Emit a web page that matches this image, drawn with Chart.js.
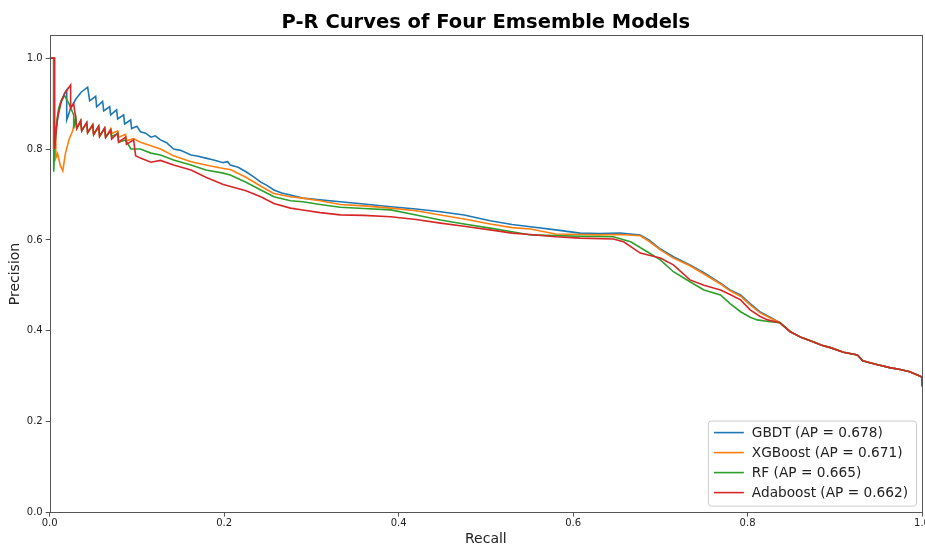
<!DOCTYPE html>
<html>
<head>
    <title>P-R Curves of Four Emsemble Models</title>
    <script src="https://cdn.jsdelivr.net/npm/chart.js"></script>
    <style>
        html, body {
            margin: 0;
            padding: 0;
            background: #ffffff;
        }

        #chartBox {
            width: 925px;
            height: 547px;
        }
    </style>
</head>
<body>
    <div id="chartBox">
        <canvas id="prChart" width="925" height="547"></canvas>
    </div>
    <script>
        // tick positions on both axes
        const recallTicks = [0, 0.2, 0.4, 0.6, 0.8, 1.0];
        const precisionTicks = [0, 0.2, 0.4, 0.6, 0.8, 1.0];

        const modelNames = ['GBDT (AP = 0.678)', 'XGBoost (AP = 0.671)', 'RF (AP = 0.665)', 'Adaboost (AP = 0.662)'];
        const modelColors = ['#1f77b4', '#ff7f0e', '#2ca02c', '#d62728'];

        // values
        const gbdtRecall = [
            0, 0.0046, 0.0046, 0.007, 0.010, 0.013, 0.017, 0.0195, 0.0195, 0.021,
            0.024, 0.030, 0.036, 0.0435, 0.0458, 0.0527, 0.0538, 0.0607, 0.0619, 0.0687,
            0.0699, 0.0767, 0.0779, 0.0848, 0.0859, 0.0928, 0.0939, 0.100, 0.104, 0.110,
            0.116, 0.121, 0.127, 0.134, 0.142, 0.150, 0.162, 0.170, 0.179, 0.188,
            0.199, 0.204, 0.207, 0.216, 0.225, 0.233, 0.242, 0.249, 0.257, 0.266,
            0.276, 0.290, 0.310, 0.333, 0.360, 0.391, 0.420, 0.448, 0.475, 0.505,
            0.530, 0.551, 0.580, 0.608, 0.630, 0.654, 0.677, 0.687, 0.700, 0.715,
            0.734, 0.750, 0.769, 0.780, 0.792, 0.803, 0.814, 0.826, 0.837, 0.849,
            0.862, 0.875, 0.885, 0.895, 0.910, 0.926, 0.932, 0.948, 0.963, 0.975,
            0.986, 0.998, 1.0, 1.0
        ];
        const gbdtPrecision = [
            1.0, 1.0, 0.80, 0.84, 0.88, 0.905, 0.922, 0.93, 0.864, 0.872,
            0.89, 0.91, 0.925, 0.936, 0.906, 0.916, 0.893, 0.905, 0.884, 0.893,
            0.875, 0.886, 0.866, 0.875, 0.855, 0.864, 0.845, 0.85, 0.838, 0.835,
            0.826, 0.829, 0.82, 0.814, 0.80, 0.797, 0.787, 0.784, 0.78, 0.776,
            0.77, 0.772, 0.765, 0.76, 0.75, 0.74, 0.727, 0.72, 0.71, 0.703,
            0.699, 0.692, 0.688, 0.684, 0.679, 0.673, 0.668, 0.662, 0.655, 0.642,
            0.634, 0.629, 0.622, 0.615, 0.614, 0.615, 0.611, 0.60, 0.58, 0.563,
            0.545, 0.528, 0.505, 0.49, 0.479, 0.46, 0.442, 0.43, 0.418, 0.398,
            0.385, 0.376, 0.368, 0.363, 0.353, 0.347, 0.334, 0.326, 0.319, 0.315,
            0.310, 0.300, 0.298, 0.278
        ];

        const xgbRecall = [
            0, 0.0046, 0.0046, 0.007, 0.007, 0.009, 0.012, 0.015, 0.018, 0.022,
            0.0263, 0.0298, 0.0310, 0.0355, 0.0367, 0.0424, 0.0435, 0.0493, 0.0504, 0.0561,
            0.0572, 0.0630, 0.0641, 0.070, 0.071, 0.078, 0.079, 0.087, 0.088, 0.096,
            0.104, 0.116, 0.127, 0.142, 0.162, 0.179, 0.199, 0.207, 0.225, 0.242,
            0.257, 0.276, 0.290, 0.310, 0.333, 0.360, 0.391, 0.420, 0.448, 0.475,
            0.505, 0.530, 0.551, 0.580, 0.608, 0.630, 0.654, 0.677, 0.687, 0.700,
            0.715, 0.734, 0.750, 0.769, 0.780, 0.792, 0.803, 0.814, 0.826, 0.837,
            0.849, 0.862, 0.875, 0.885, 0.895, 0.910, 0.926, 0.932, 0.948, 0.963,
            0.975, 0.986, 0.998, 1.0, 1.0
        ];
        const xgbPrecision = [
            1.0, 1.0, 0.80, 0.835, 0.78, 0.79, 0.765, 0.752, 0.79, 0.82,
            0.84, 0.868, 0.845, 0.862, 0.84, 0.858, 0.836, 0.853, 0.832, 0.85,
            0.828, 0.846, 0.826, 0.845, 0.834, 0.84, 0.826, 0.832, 0.818, 0.823,
            0.815, 0.807, 0.80, 0.785, 0.772, 0.765, 0.757, 0.755, 0.738, 0.718,
            0.702, 0.695, 0.692, 0.686, 0.678, 0.675, 0.670, 0.664, 0.655, 0.646,
            0.635, 0.627, 0.624, 0.613, 0.612, 0.611, 0.612, 0.609, 0.597, 0.578,
            0.56, 0.543, 0.525, 0.503, 0.488, 0.476, 0.457, 0.44, 0.428, 0.418,
            0.398, 0.385, 0.376, 0.368, 0.363, 0.353, 0.347, 0.334, 0.326, 0.319,
            0.315, 0.310, 0.300, 0.298, 0.278
        ];

        const rfRecall = [
            0, 0.0046, 0.0046, 0.0057, 0.008, 0.0103, 0.013, 0.017, 0.022, 0.0275,
            0.0275, 0.0298, 0.0310, 0.0355, 0.0367, 0.0424, 0.0435, 0.0493, 0.0504, 0.0561,
            0.0572, 0.0630, 0.0641, 0.070, 0.071, 0.078, 0.079, 0.087, 0.093, 0.104,
            0.116, 0.127, 0.142, 0.162, 0.179, 0.199, 0.207, 0.225, 0.242, 0.257,
            0.276, 0.290, 0.310, 0.333, 0.360, 0.391, 0.420, 0.448, 0.475, 0.505,
            0.530, 0.551, 0.570, 0.608, 0.646, 0.666, 0.685, 0.700, 0.715, 0.734,
            0.750, 0.769, 0.780, 0.792, 0.803, 0.811, 0.826, 0.837, 0.849, 0.862,
            0.875, 0.885, 0.895, 0.910, 0.926, 0.932, 0.948, 0.963, 0.975, 0.986,
            0.998, 1.0, 1.0
        ];
        const rfPrecision = [
            1.0, 1.0, 0.75, 0.80, 0.86, 0.89, 0.905, 0.918, 0.90, 0.875,
            0.845, 0.868, 0.845, 0.862, 0.84, 0.858, 0.836, 0.853, 0.832, 0.85,
            0.828, 0.846, 0.826, 0.840, 0.828, 0.834, 0.815, 0.82, 0.80, 0.80,
            0.791, 0.787, 0.776, 0.765, 0.754, 0.747, 0.743, 0.727, 0.71, 0.695,
            0.686, 0.684, 0.678, 0.672, 0.669, 0.666, 0.655, 0.644, 0.635, 0.626,
            0.618, 0.611, 0.610, 0.608, 0.607, 0.596, 0.574, 0.556, 0.53, 0.508,
            0.49, 0.479, 0.46, 0.442, 0.43, 0.424, 0.42, 0.418, 0.398, 0.385,
            0.376, 0.368, 0.363, 0.353, 0.347, 0.334, 0.326, 0.319, 0.315, 0.310,
            0.300, 0.298, 0.278
        ];

        const adaRecall = [
            0, 0.0057, 0.0057, 0.0069, 0.0092, 0.0126, 0.017, 0.024, 0.024, 0.0275,
            0.0298, 0.0310, 0.0355, 0.0367, 0.0424, 0.0435, 0.0493, 0.0504, 0.0561, 0.0572,
            0.0630, 0.0641, 0.070, 0.071, 0.078, 0.079, 0.087, 0.088, 0.0962, 0.0985,
            0.104, 0.116, 0.127, 0.142, 0.162, 0.179, 0.199, 0.225, 0.242, 0.257,
            0.276, 0.290, 0.310, 0.333, 0.360, 0.391, 0.420, 0.448, 0.475, 0.505,
            0.530, 0.551, 0.580, 0.608, 0.646, 0.658, 0.677, 0.700, 0.715, 0.734,
            0.750, 0.769, 0.780, 0.792, 0.803, 0.814, 0.823, 0.837, 0.849, 0.862,
            0.875, 0.885, 0.895, 0.910, 0.926, 0.932, 0.948, 0.963, 0.975, 0.986,
            0.998, 1.0, 1.0
        ];
        const adaPrecision = [
            1.0, 1.0, 0.80, 0.83, 0.87, 0.90, 0.922, 0.941, 0.89, 0.90,
            0.868, 0.845, 0.862, 0.84, 0.858, 0.836, 0.853, 0.832, 0.85, 0.828,
            0.846, 0.826, 0.842, 0.822, 0.835, 0.815, 0.826, 0.81, 0.82, 0.785,
            0.78, 0.771, 0.775, 0.765, 0.754, 0.738, 0.722, 0.708, 0.695, 0.68,
            0.67, 0.666, 0.66, 0.655, 0.654, 0.651, 0.645, 0.637, 0.63, 0.622,
            0.615, 0.612, 0.607, 0.604, 0.602, 0.596, 0.571, 0.56, 0.545, 0.512,
            0.50, 0.49, 0.48, 0.468, 0.446, 0.432, 0.424, 0.418, 0.398, 0.385,
            0.376, 0.368, 0.363, 0.353, 0.347, 0.334, 0.326, 0.319, 0.315, 0.310,
            0.300, 0.298, 0.278
        ];

        const allRecall = [gbdtRecall, xgbRecall, rfRecall, adaRecall];
        const allPrecision = [gbdtPrecision, xgbPrecision, rfPrecision, adaPrecision];

        Chart.defaults.font.family = "'DejaVu Sans', sans-serif";
        Chart.defaults.color = '#222';

        // frame around the plot, like matplotlib spines
        const framePlugin = {
            id: 'frame',
            afterDatasetsDraw(chart) {
                const { ctx, chartArea } = chart;
                ctx.save();
                ctx.strokeStyle = '#555';
                ctx.lineWidth = 1;
                ctx.strokeRect(Math.round(chartArea.left) + 0.5, Math.round(chartArea.top) + 0.5,
                    Math.round(chartArea.right - chartArea.left), Math.round(chartArea.bottom - chartArea.top));
                ctx.restore();
            }
        };

        // legend in the lower right corner of the plot
        const legendPlugin = {
            id: 'insideLegend',
            afterDraw(chart) {
                const { ctx, chartArea } = chart;
                const datasets = chart.data.datasets;
                ctx.save();
                ctx.font = "13.7px 'DejaVu Sans', sans-serif";
                let textWidth = 0;
                for (const ds of datasets) {
                    textWidth = Math.max(textWidth, ctx.measureText(ds.label).width);
                }
                const rowHeight = 20;
                const boxW = 44 + textWidth + 8;
                const boxH = rowHeight * datasets.length + 5;
                const boxX = chartArea.right - 6 - boxW;
                const boxY = chartArea.bottom - 7 - boxH;

                ctx.beginPath();
                ctx.roundRect(boxX + 0.5, boxY + 0.5, boxW, boxH, 3);
                ctx.fillStyle = 'rgba(255, 255, 255, 0.8)';
                ctx.fill();
                ctx.strokeStyle = '#cccccc';
                ctx.lineWidth = 1;
                ctx.stroke();

                ctx.textBaseline = 'middle';
                datasets.forEach((ds, i) => {
                    const y = boxY + 12 + i * rowHeight;
                    ctx.beginPath();
                    ctx.moveTo(boxX + 6, y);
                    ctx.lineTo(boxX + 36, y);
                    ctx.strokeStyle = ds.borderColor;
                    ctx.lineWidth = 1.6;
                    ctx.stroke();
                    ctx.fillStyle = '#222';
                    ctx.fillText(ds.label, boxX + 44, y + 1);
                });
                ctx.restore();
            }
        };

        const datasets = modelNames.map((name, i) => ({
            label: name,
            data: allRecall[i].map((r, j) => ({ x: r, y: allPrecision[i][j] })),
            borderColor: modelColors[i],
            backgroundColor: modelColors[i],
            borderWidth: 1.6,
            pointRadius: 0,
            tension: 0,
            fill: false,
            order: modelNames.length - i // Adaboost drawn last, on top
        }));

        const ctx = document.getElementById('prChart').getContext('2d');
        const chart = new Chart(ctx, {
            type: 'line',
            data: { datasets: datasets },
            options: {
                responsive: false,
                devicePixelRatio: 1,
                animation: false,
                layout: {
                    padding: { top: 0, left: 7, right: 3, bottom: 0 }
                },
                plugins: {
                    legend: { display: false },
                    tooltip: { enabled: false },
                    title: {
                        display: true,
                        text: 'P-R Curves of Four Emsemble Models',
                        fullSize: false,
                        color: '#000',
                        font: { size: 19.5, weight: 'bold' },
                        padding: { top: 11, bottom: 1 }
                    }
                },
                scales: {
                    x: {
                        type: 'linear',
                        min: 0,
                        max: 1,
                        afterBuildTicks: (scale) => {
                            scale.ticks = recallTicks.map(v => ({ value: v }));
                        },
                        afterFit: (scale) => {
                            scale.paddingRight = 0;
                        },
                        ticks: {
                            callback: (v) => Number(v).toFixed(1),
                            font: { size: 10 },
                            color: '#222',
                            padding: 1,
                            maxRotation: 0,
                            autoSkip: false
                        },
                        grid: { drawOnChartArea: false, tickLength: 4, color: '#555' },
                        border: { display: false },
                        title: {
                            display: true,
                            text: 'Recall',
                            color: '#222',
                            font: { size: 14, lineHeight: 1.1 },
                            padding: { top: 1, bottom: 0 }
                        }
                    },
                    y: {
                        type: 'linear',
                        min: 0,
                        max: 1.05,
                        afterBuildTicks: (scale) => {
                            scale.ticks = precisionTicks.map(v => ({ value: v }));
                        },
                        ticks: {
                            callback: (v) => Number(v).toFixed(1),
                            font: { size: 10 },
                            color: '#222',
                            padding: 3
                        },
                        grid: { drawOnChartArea: false, tickLength: 4, color: '#555' },
                        border: { display: false },
                        title: {
                            display: true,
                            text: 'Precision',
                            color: '#222',
                            font: { size: 14 },
                            padding: { top: 0, bottom: 0 }
                        }
                    }
                }
            },
            plugins: [framePlugin, legendPlugin]
        });
    </script>
</body>
</html>
